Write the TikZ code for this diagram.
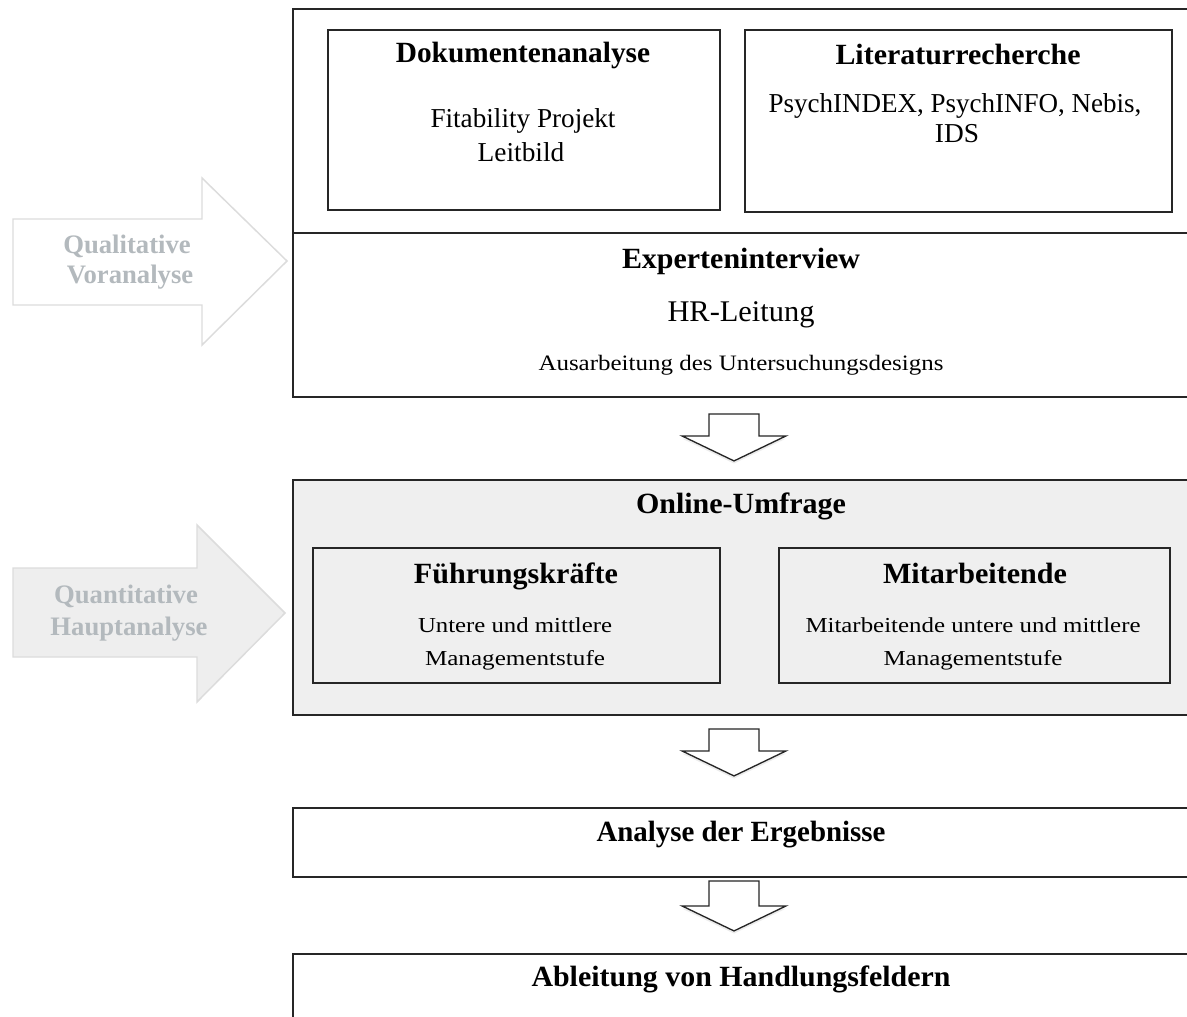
\documentclass[tikz,border=0pt]{standalone}
\usepackage{fontspec}
\setmainfont{Liberation Serif}
\usetikzlibrary{fit,shadows}
\definecolor{boxgray}{HTML}{EFEFEF}
\definecolor{lblgray}{HTML}{B3B9BD}
\definecolor{arrline}{HTML}{DCDCDC}
\definecolor{arrfill}{HTML}{EEEEEE}
\newlength\pxu \setlength\pxu{0.75pt}
\newcommand\fw[2]{\resizebox{#1\pxu}{\height}{#2}}
\begin{document}
\begin{tikzpicture}[x=0.75pt,y=-0.75pt,
  box/.style={draw=black!85,line width=1.4pt,inner sep=0pt,fill=white},
  shbox/.style={box,fill=boxgray},
  hd/.style={anchor=base,inner sep=0pt,font=\bfseries\fontsize{22}{26}\selectfont},
  rg/.style={anchor=base,inner sep=0pt,font=\fontsize{20.5}{24}\selectfont},
  sm/.style={anchor=base,inner sep=0pt,font=\fontsize{16}{19}\selectfont},
  lbl/.style={anchor=base,inner sep=0pt,text=lblgray,font=\bfseries\fontsize{20}{24}\selectfont},
  bigarrow/.style={draw=arrline,line width=1.1pt,line join=miter},
  darrow/.style={draw=black!85,line width=1pt,fill=white,line join=miter,
    drop shadow={shadow xshift=0pt,shadow yshift=-2pt,opacity=0.15}},
]
\path[use as bounding box] (0,0) rectangle (1187,1016);
\clip (0,0) rectangle (1187,1016);

% left side arrows
\path[bigarrow,fill=white] (13,219) -- (202,219) -- (202,178) -- (287,261)
  -- (202,345) -- (202,305) -- (13,305) -- cycle;
\node[lbl] (qual1) at (127,253) {Qualitative};
\node[lbl] (qual2) at (130,283) {Voranalyse};

\path[bigarrow,fill=arrfill] (13,568) -- (197,568) -- (197,525) -- (285,613)
  -- (197,702) -- (197,657) -- (13,657) -- cycle;
\node[lbl] (quan1) at (126,603) {Quantitative};
\node[lbl] (quan2) at (129,635) {Hauptanalyse};

% boxes
\node[box,fit={(293,9) (1200,233)}] (top) {};
\node[box,fit={(293,233) (1200,397)}] (exp) {};
\node[box,fit={(328,30) (720,210)}] (doc) {};
\node[box,fit={(745,30) (1172,212)}] (lit) {};

\node[shbox,fit={(293,480) (1200,715)}] (online) {};
\node[shbox,fit={(313,548) (720,683)}] (fk) {};
\node[shbox,fit={(779,548) (1170,683)}] (ma) {};

\node[box,fit={(293,808) (1200,877)}] (ana) {};
\node[box,fit={(293,954) (1200,1040)}] (abl) {};

% texts
\node[hd] (tdoc) at (523,63) {Dokumentenanalyse};
\node[rg] (tdoc1) at (523,128) {\fw{185}{Fitability Projekt}};
\node[rg] (tdoc2) at (521,162) {Leitbild};

\node[hd] (tlit) at (958,65) {\fw{245}{Literaturrecherche}};
\node[rg] (tlit1) at (955,113) {\fw{373}{PsychINDEX, PsychINFO, Nebis,}};
\node[rg] (tlit2) at (957,143) {IDS};

\node[hd] (texp) at (741,268) {\fw{238}{Experteninterview}};
\node[anchor=base,inner sep=0pt,font=\fontsize{22.5}{26}\selectfont] (texp1) at (741,321) {\fw{147}{HR-Leitung}};
\node[anchor=base,inner sep=0pt,font=\fontsize{16.5}{19}\selectfont] (texp2) at (741,370) {\fw{405}{Ausarbeitung des Untersuchungsdesigns}};

\node[hd] (tonl) at (741,513) {\fw{210}{Online-Umfrage}};
\node[hd] (tfk) at (516,583) {\fw{204}{Führungskräfte}};
\node[sm] (tfk1) at (515,632) {\fw{194}{Untere und mittlere}};
\node[sm] (tfk2) at (515,665) {\fw{180}{Managementstufe}};
\node[hd] (tma) at (975,583) {\fw{184}{Mitarbeitende}};
\node[sm] (tma1) at (973,632) {\fw{335}{Mitarbeitende untere und mittlere}};
\node[sm] (tma2) at (973,665) {\fw{179}{Managementstufe}};

\node[hd] (tana) at (741,841) {\fw{289}{Analyse der Ergebnisse}};
\node[hd] (tabl) at (741,986) {\fw{419}{Ableitung von Handlungsfeldern}};

% block arrows between stages
\coordinate (a1) at (exp.south -| 734,0);
\coordinate (a2) at (online.south -| 734,0);
\coordinate (a3) at (ana.south -| 734,0);
\path[darrow] (a1) ++(-25,16) -- ++(0,22) -- ++(-27,0) -- ++(52,25) -- ++(52,-25)
  -- ++(-27,0) -- ++(0,-22) -- cycle;
\path[darrow] (a2) ++(-25,13) -- ++(0,22) -- ++(-27,0) -- ++(52,25) -- ++(52,-25)
  -- ++(-27,0) -- ++(0,-22) -- cycle;
\path[darrow] (a3) ++(-25,3) -- ++(0,25) -- ++(-27,0) -- ++(52,25) -- ++(52,-25)
  -- ++(-27,0) -- ++(0,-25) -- cycle;
\end{tikzpicture}
\end{document}
